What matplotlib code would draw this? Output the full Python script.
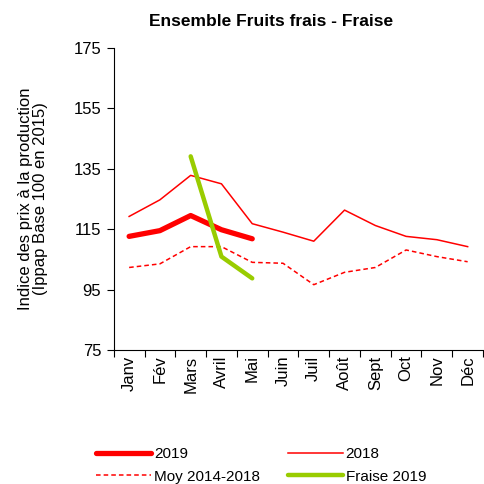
import numpy as np
import matplotlib
matplotlib.use('Agg')
from matplotlib import pyplot as plt

plt.rcParams['font.family'] = ['Liberation Sans', 'DejaVu Sans']

months = ['Janv', 'Fév', 'Mars', 'Avril', 'Mai', 'Juin', 'Juil', 'Août',
          'Sept', 'Oct', 'Nov', 'Déc']
serie_2019 = [112.6, 114.5, 119.5, 114.8, 111.8]
serie_2018 = [119.2, 124.7, 132.8, 130.0, 116.8, 114.0, 111.0, 121.3,
              116.2, 112.6, 111.5, 109.2]
moy_2014_2018 = [102.3, 103.5, 109.2, 109.2, 104.0, 103.7, 96.6, 100.7,
                 102.3, 108.1, 105.9, 104.2]
fraise_2019 = [np.nan, np.nan, 139.1, 105.9, 98.7]

fig = plt.figure(figsize=(4.84, 4.84), dpi=100)
ax = fig.add_axes([0.235, 0.277, 0.763, 0.624])

x = np.arange(len(months))
l2019, = ax.plot(x[:len(serie_2019)], serie_2019, color='#FF0000', lw=3.8,
                 solid_capstyle='round', label='2019')
l2018, = ax.plot(x, serie_2018, color='#FF0000', lw=1.1, label='2018')
lmoy, = ax.plot(x, moy_2014_2018, color='#FF0000', lw=1.1, ls=(0, (3, 2)),
                label='Moy 2014-2018')
lfraise, = ax.plot(x[:len(fraise_2019)], fraise_2019, color='#99CC00', lw=3.2,
                   solid_capstyle='round', label='Fraise 2019')

ax.set_xlim(-0.5, len(months) - 0.5)
ax.set_ylim(75, 175)
ax.set_yticks(np.arange(75, 176, 20))
ax.set_xticks(x)
ax.set_xticklabels(months, rotation=90, fontsize=12)
ax.set_xticks(np.arange(-0.5, len(months)), minor=True)
ax.tick_params(axis='x', which='major', length=0, pad=4)
ax.tick_params(axis='x', which='minor', length=5, direction='out', width=0.8)
ax.tick_params(axis='y', labelsize=12, length=5, width=0.8, pad=4)

for side in ['top', 'right']:
  ax.spines[side].set_visible(False)
for side in ['left', 'bottom']:
  ax.spines[side].set_linewidth(0.8)

ax.set_ylabel('Indice des prix à la production\n(Ippap Base 100 en 2015)',
              fontsize=12, linespacing=1.0, labelpad=18)
fig.text(0.56, 0.955, 'Ensemble Fruits frais - Fraise', fontsize=12.5,
         fontweight='bold', ha='center', va='center')

# matplotlib fills legend columns first, so order handles to get rows
# "2019 | 2018" then "Moy | Fraise"
fig.legend(handles=[l2019, lmoy, l2018, lfraise],
           loc='lower left', bbox_to_anchor=(0.17, -0.028), ncol=2,
           frameon=False, fontsize=11, handlelength=3.6, handletextpad=0.2,
           columnspacing=1.8, labelspacing=0.55)

fig.savefig('out.png', dpi=100)
